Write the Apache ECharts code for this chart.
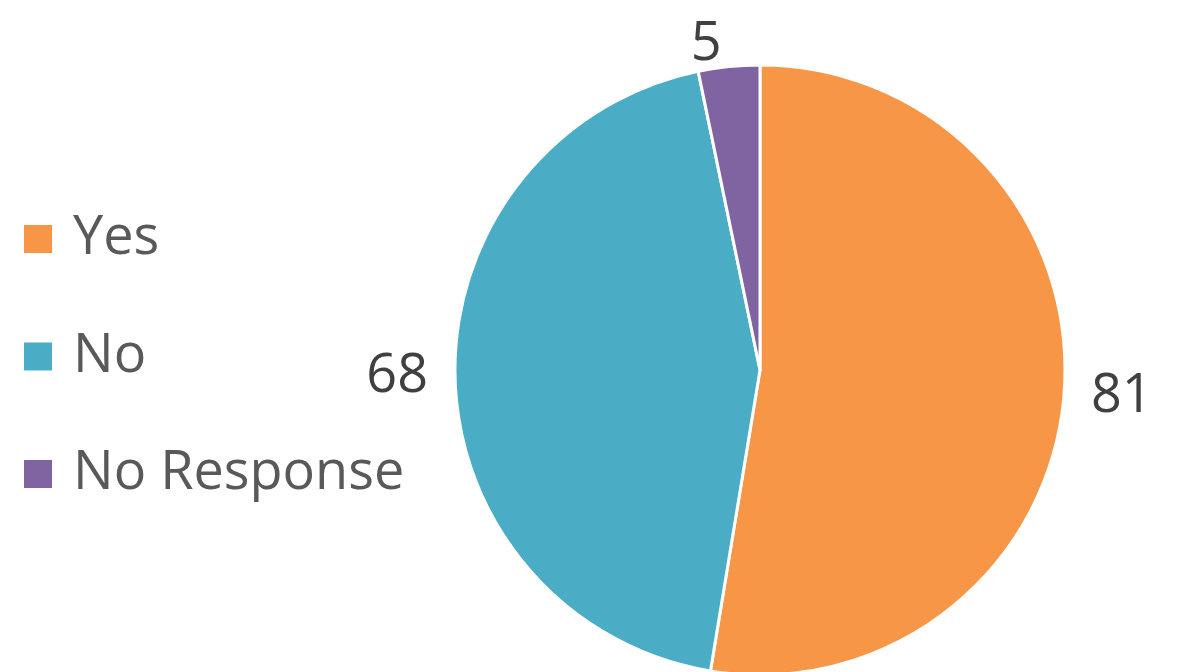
<!DOCTYPE html>
<html><head><meta charset="utf-8">
<script src="https://cdn.jsdelivr.net/npm/echarts@6/dist/echarts.min.js"></script>
<style>html,body{margin:0;padding:0;background:#fff}#c{width:1187px;height:672px}</style>
</head><body><div id="c"></div>
<script>
const categories = ["Yes", "No", "No Response"];
const values = [81, 68, 5];
const colors = ["#F79646", "#4BACC6", "#8064A2"];

const chart = echarts.init(document.getElementById('c'), null, {renderer: 'canvas'});
chart.setOption({
  animation: false,
  color: colors,
  legend: {
    orient: 'vertical',
    left: 22,
    top: 212,
    padding: 0,
    itemWidth: 30,
    itemHeight: 30,
    itemGap: 63.5,
    icon: 'rect',
    data: categories,
    textStyle: {fontFamily: 'Open Sans', fontSize: 54, color: '#595959', padding: [0,0,0,15]}
  },
  series: [{
    type: 'pie',
    center: [760, 370],
    radius: [0, 305],
    startAngle: 90,
    clockwise: true,
    avoidLabelOverlap: false,
    itemStyle: {borderColor: '#fff', borderWidth: 3},
    label: {show: true, position: 'outside', formatter: '{c}', fontFamily: 'Open Sans', fontSize: 54, color: '#404040', distanceToLabelLine: 5},
    labelLine: {show: false, length: 22, length2: 0},
    emphasis: {disabled: true},
    data: categories.map((n, i) => ({name: n, value: values[i]}))
  }]
});
</script></body></html>
